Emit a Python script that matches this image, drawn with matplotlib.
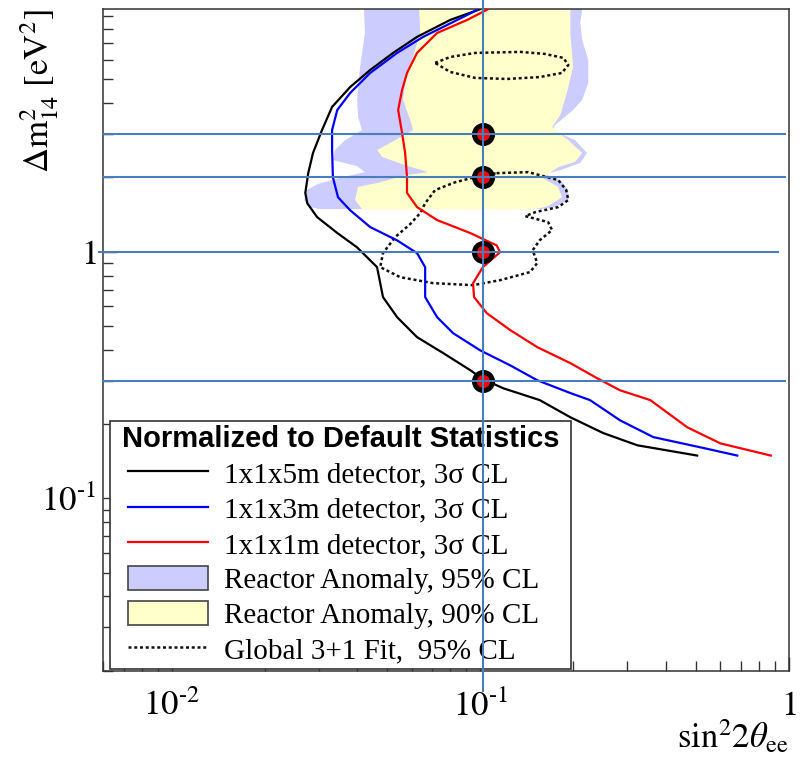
import matplotlib
matplotlib.use("Agg")
import matplotlib.pyplot as plt
from matplotlib.lines import Line2D
from matplotlib.patches import Patch
from matplotlib.legend_handler import HandlerLine2D, HandlerPatch
from matplotlib.font_manager import FontProperties
from matplotlib.ticker import NullFormatter

plt.rcParams['font.family'] = ['Liberation Serif', 'DejaVu Serif']
plt.rcParams['mathtext.fontset'] = 'stix'

# ---------------- data (sin^2 2theta_ee , dm^2_14 [eV^2]) ----------------
det5m_x = [0.0999, 0.0799, 0.0624, 0.0522, 0.0440, 0.0379, 0.0331, 0.0307, 0.0287, 0.0277,
           0.0271, 0.0275, 0.0296, 0.0344, 0.0399, 0.0463, 0.0484, 0.0538, 0.0624, 0.0758,
           0.0927, 0.102, 0.119, 0.156, 0.196, 0.250, 0.323, 0.505]
det5m_y = [9.61, 8.69, 7.42, 6.39, 5.45, 4.65, 3.86, 3.11, 2.51, 2.08,
           1.73, 1.57, 1.38, 1.19, 1.04, 0.865, 0.654, 0.542, 0.450, 0.388,
           0.331, 0.304, 0.279, 0.250, 0.213, 0.184, 0.164, 0.149]

det3m_x = [0.0977, 0.0842, 0.0653, 0.0538, 0.0440, 0.0379, 0.0344, 0.0331, 0.0331, 0.0333,
           0.0346, 0.0379, 0.0440, 0.0538, 0.0624, 0.0663, 0.0663, 0.0725, 0.0817, 0.0999,
           0.125, 0.153, 0.196, 0.227, 0.284, 0.364, 0.528, 0.681]
det3m_y = [9.54, 8.69, 7.42, 6.39, 5.30, 4.40, 3.75, 3.11, 2.58, 2.00,
           1.66, 1.47, 1.257, 1.11, 0.986, 0.865, 0.654, 0.542, 0.467, 0.398,
           0.346, 0.301, 0.267, 0.250, 0.207, 0.177, 0.160, 0.149]

det1m_x = [0.106, 0.0907, 0.0725, 0.0624, 0.0579, 0.0558, 0.0542, 0.0558, 0.0571, 0.0579,
           0.0579, 0.0624, 0.0725, 0.0927, 0.113, 0.116, 0.102, 0.0948, 0.0955, 0.105,
           0.125, 0.153, 0.196, 0.239, 0.284, 0.356, 0.469, 0.600, 0.875]
det1m_y = [9.61, 8.69, 7.70, 6.39, 5.30, 4.52, 3.75, 3.03, 2.51, 2.00,
           1.73, 1.515, 1.342, 1.19, 1.06, 0.995, 0.865, 0.745, 0.654, 0.563,
           0.481, 0.410, 0.353, 0.307, 0.274, 0.250, 0.194, 0.167, 0.149]

# Reactor anomaly 95% CL region
ra95_x = [0.0417, 0.0423, 0.0408, 0.0399, 0.0402, 0.0414, 0.0365, 0.0338, 0.0333, 0.0399,
          0.0423, 0.0351, 0.0298, 0.0273, 0.0269, 0.0281, 0.0303,
          0.156, 0.175, 0.193, 0.193, 0.182, 0.162, 0.182, 0.211, 0.222,
          0.203, 0.171, 0.175, 0.200, 0.214, 0.224, 0.224, 0.214, 0.211, 0.221]
ra95_y = [12.0, 7.70, 5.61, 4.12, 3.51, 3.11, 2.83, 2.58, 2.35, 2.22,
          2.10, 1.99, 1.88, 1.776, 1.618, 1.515, 1.487,
          1.487, 1.515, 1.618, 1.776, 1.95, 2.06, 2.14, 2.29, 2.51,
          2.83, 3.11, 3.26, 3.75, 4.12, 4.83, 5.98, 7.21, 8.53, 12.0]

# Reactor anomaly 90% CL region
ra90_x = [0.0629, 0.0639, 0.0601, 0.0571, 0.0562, 0.0593, 0.0606, 0.0530, 0.0463, 0.0481,
          0.0571, 0.0678, 0.0571, 0.0467, 0.0402, 0.0393, 0.0414,
          0.151, 0.166, 0.184, 0.179, 0.159, 0.179, 0.203, 0.214, 0.193,
          0.171, 0.182, 0.191, 0.200, 0.196, 0.196]
ra90_y = [12.0, 7.70, 5.98, 4.83, 4.12, 3.42, 3.11, 2.83, 2.58, 2.42,
          2.24, 2.10, 2.04, 1.90, 1.83, 1.618, 1.487,
          1.487, 1.53, 1.66, 1.83, 1.99, 2.20, 2.31, 2.51, 2.83,
          3.20, 3.58, 4.40, 5.61, 7.70, 12.0]

# Global 3+1 fit 95% CL islands
glob_hi_x = [0.0714, 0.0799, 0.0963, 0.135, 0.162, 0.186, 0.193, 0.184, 0.156, 0.122,
             0.0963, 0.0799, 0.0714]
glob_hi_y = [5.82, 6.15, 6.39, 6.45, 6.33, 6.10, 5.71, 5.30, 5.10, 5.01,
             5.06, 5.35, 5.82]

glob_lo_x = [0.113, 0.143, 0.179, 0.190, 0.193, 0.179, 0.151, 0.140, 0.166, 0.171,
             0.156, 0.148, 0.153, 0.145, 0.116, 0.0948, 0.0703, 0.0550, 0.0474, 0.0484,
             0.0530, 0.0593, 0.0639, 0.0663, 0.0714, 0.0829, 0.0984, 0.113]
glob_lo_y = [2.08, 2.10, 1.95, 1.776, 1.618, 1.515, 1.446, 1.393, 1.317, 1.222,
             1.113, 1.014, 0.898, 0.826, 0.766, 0.731, 0.745, 0.788, 0.865, 0.986,
             1.145, 1.293, 1.433, 1.57, 1.776, 1.91, 2.02, 2.08]

# annotation markers / guide lines
mark_x = 0.102
mark_y = [3.0, 2.0, 1.0, 0.3]
guide_xmin = [0.006, 0.006, 0.0058, 0.006]
guide_xmax = [0.975, 0.975, 0.92, 0.975]
vline_ymin, vline_ymax = 0.0165, 10.5

legend_labels = ["1x1x5m detector, 3\u03c3 CL", "1x1x3m detector, 3\u03c3 CL",
                 "1x1x1m detector, 3\u03c3 CL", "Reactor Anomaly, 95% CL",
                 "Reactor Anomaly, 90% CL", "Global 3+1 Fit,  95% CL"]

# ---------------- figure ----------------
W, H = 808, 758
fig = plt.figure(figsize=(W / 100, H / 100), dpi=100)
ax = fig.add_axes([103.3 / W, 1 - 670.7 / H, 685.4 / W, 661.4 / H])
ax.set_xscale('log')
ax.set_yscale('log')
ax.set_xlim(0.006, 1.0)
ax.set_ylim(0.02, 9.6)

c95 = '#ccccff'
c90 = '#ffffcc'
ax.fill(ra95_x, ra95_y, color=c95, lw=0, zorder=1)
ax.fill(ra90_x, ra90_y, color=c90, lw=0, zorder=1.1)

dot_ls = (0, (1.2, 1.1))
ax.plot(glob_hi_x, glob_hi_y, color='#111111', lw=1.8, ls=dot_ls, zorder=2)
ax.plot(glob_lo_x, glob_lo_y, color='#111111', lw=1.8, ls=dot_ls, zorder=2)

ax.plot(det5m_x, det5m_y, color='black', lw=1.6, zorder=3)
ax.plot(det3m_x, det3m_y, color='#0000ff', lw=1.6, zorder=3)
ax.plot(det1m_x, det1m_y, color='#ff0000', lw=1.6, zorder=3)

ax.plot([mark_x] * len(mark_y), mark_y, 'o', ms=13, mfc='#ff0000', mec='black',
        mew=3.6, zorder=5, clip_on=False)

gcol = '#4a7ebb'
for y, x0, x1 in zip(mark_y, guide_xmin, guide_xmax):
    ax.plot([x0, x1], [y, y], color=gcol, lw=1.5, zorder=6, clip_on=False)
ax.plot([mark_x, mark_x], [vline_ymin, vline_ymax], color=gcol, lw=1.5, zorder=6, clip_on=False)

# axes styling
for s in ax.spines.values():
    s.set_linewidth(1.1)
    s.set_color('#333333')
ax.tick_params(which='both', direction='in', top=False, right=False, color='#333333', width=1.0)
ax.tick_params(which='major', length=10)
ax.tick_params(which='minor', length=7.2)
ax.tick_params(axis='x', which='major', pad=14, labelsize=25)
ax.tick_params(axis='y', which='major', pad=5, labelsize=25)
ax.set_xticks([0.01, 0.1, 1.0])
ax.set_xticklabels([r'$10^{\text{-2}}$', r'$10^{\text{-1}}$', r'$1$'])
ax.set_yticks([0.1, 1.0])
ax.set_yticklabels([r'$10^{\text{-1}}$', r'$1$'])
ax.xaxis.set_minor_formatter(NullFormatter())
ax.yaxis.set_minor_formatter(NullFormatter())

ax.set_ylabel(r'$\Delta\mathrm{m}^{2}_{14}\ [\mathrm{eV}^{2}]$', fontsize=25, loc='top')
ax.yaxis.set_label_coords(-0.062, 1.0)
ax.set_xlabel(r'$\mathrm{sin}^{2}2\theta_{\mathrm{ee}}$', fontsize=25, loc='right')
ax.xaxis.set_label_coords(1.0, -0.072)

# legend
handles = [Line2D([], [], color='black', lw=1.6),
           Line2D([], [], color='#0000ff', lw=1.6),
           Line2D([], [], color='#ff0000', lw=1.6),
           Patch(facecolor=c95, edgecolor='#444444', lw=1.2),
           Patch(facecolor=c90, edgecolor='#444444', lw=1.2),
           Line2D([], [], color='#111111', lw=1.8, ls=dot_ls)]
leg = ax.legend(handles, legend_labels,
                title='Normalized to Default Statistics',
                title_fontproperties=FontProperties(family='Liberation Sans', weight='bold', size=21),
                prop=FontProperties(family='Liberation Serif', size=21),
                loc='upper left', bbox_to_anchor=(0.0098, 0.0101, 0.6723, 0.3674),
                mode='expand', borderaxespad=0, fancybox=False, framealpha=1,
                edgecolor='#333333', handlelength=3.2, handleheight=0.9,
                handletextpad=0.55, labelspacing=0.24, borderpad=0.15,
                handler_map={Line2D: HandlerLine2D(xpad=0.45), Patch: HandlerPatch(xpad=0.45)})
leg.get_frame().set_linewidth(1.2)
leg.set_zorder(4)

fig.savefig('out.png', dpi=100)
